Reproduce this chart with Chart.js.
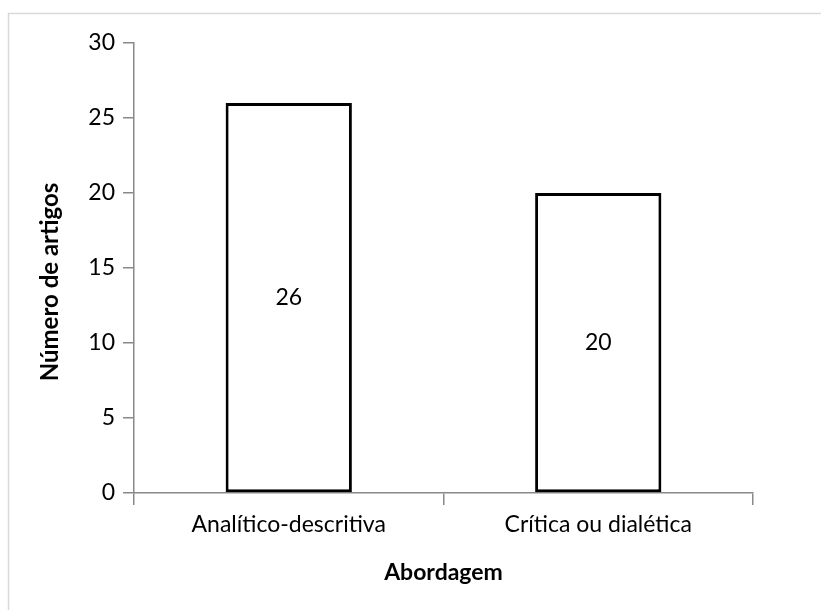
<!DOCTYPE html>
<html>
<head>
<meta charset="utf-8">
<script src="https://cdn.jsdelivr.net/npm/chart.js@4/dist/chart.umd.min.js"></script>
<style>
  html, body { margin: 0; padding: 0; background: #ffffff; }
  #wrap { width: 821px; height: 610px; position: relative; }
</style>
</head>
<body>
<div id="wrap"><canvas id="c" width="821" height="610"></canvas></div>
<script>
const categories = ['Analítico-descritiva', 'Crítica ou dialética'];
const articleCounts = [26, 20];
const yTicks = [0, 5, 10, 15, 20, 25, 30];
const xTitle = 'Abordagem';
const yTitle = 'Número de artigos';

const FONT = 'Lato, "Open Sans", sans-serif';
const AXIS_GRAY = '#898989';

// Light frame around the whole chart
const framePlugin = {
  id: 'frame',
  beforeDraw(chart) {
    const ctx = chart.ctx;
    ctx.save();
    ctx.fillStyle = '#ffffff';
    ctx.fillRect(0, 0, chart.width, chart.height);
    ctx.strokeStyle = '#d9d9d9';
    ctx.lineWidth = 1.5;
    ctx.strokeRect(8.5, 13.5, 1000, 1000);
    ctx.restore();
  }
};

// Value printed in the middle of each bar
const valueLabels = {
  id: 'valueLabels',
  afterDatasetsDraw(chart) {
    const ctx = chart.ctx;
    ctx.save();
    ctx.font = '23px ' + FONT;
    ctx.fillStyle = '#000000';
    ctx.textAlign = 'center';
    ctx.textBaseline = 'middle';
    chart.getDatasetMeta(0).data.forEach((bar, i) => {
      const v = chart.data.datasets[0].data[i];
      ctx.fillText(String(v), bar.x, (bar.y + bar.base) / 2);
    });
    ctx.restore();
  }
};

// Vertical axis title, set a little below the plot's middle
const yTitlePlugin = {
  id: 'yTitle',
  afterDraw(chart) {
    const ctx = chart.ctx;
    const area = chart.chartArea;
    ctx.save();
    ctx.translate(50, (area.top + area.bottom) / 2 + 14);
    ctx.rotate(-Math.PI / 2);
    ctx.font = 'bold 24px ' + FONT;
    ctx.fillStyle = '#000000';
    ctx.textAlign = 'center';
    ctx.textBaseline = 'middle';
    ctx.fillText(yTitle, 0, 0);
    ctx.restore();
  }
};

new Chart(document.getElementById('c'), {
  type: 'bar',
  data: {
    labels: categories,
    datasets: [{
      data: articleCounts,
      backgroundColor: '#ffffff',
      borderColor: '#000000',
      borderWidth: 3,
      borderSkipped: false,
      barPercentage: 0.408,
      categoryPercentage: 1.0
    }]
  },
  options: {
    responsive: false,
    animation: false,
    devicePixelRatio: 1,
    layout: { padding: { top: 43, right: 68, bottom: 0, left: 0 } },
    plugins: {
      legend: { display: false },
      tooltip: { enabled: false }
    },
    scales: {
      x: {
        grid: {
          display: true,
          offset: true,
          drawOnChartArea: false,
          drawTicks: true,
          tickLength: 12,
          color: AXIS_GRAY,
          lineWidth: 1.5
        },
        border: { display: true, color: AXIS_GRAY, width: 1.5 },
        ticks: { color: '#000000', font: { family: FONT, size: 23 }, padding: 6 },
        title: {
          display: true,
          text: xTitle,
          color: '#000000',
          font: { family: FONT, size: 23, weight: 'bold' },
          padding: { top: 4, bottom: 24 }
        },
        afterFit(scale) { scale.height = 117; }
      },
      y: {
        min: 0,
        max: 30,
        afterBuildTicks(scale) { scale.ticks = yTicks.map(v => ({ value: v })); },
        grid: {
          display: true,
          drawOnChartArea: false,
          drawTicks: true,
          tickLength: 11,
          color: AXIS_GRAY,
          lineWidth: 1.5
        },
        border: { display: true, color: AXIS_GRAY, width: 1.5 },
        ticks: { color: '#000000', font: { family: FONT, size: 23 }, padding: 8 },
        title: { display: false },
        afterFit(scale) { scale.width = 134; }
      }
    }
  },
  plugins: [framePlugin, valueLabels, yTitlePlugin]
});
</script>
</body>
</html>
